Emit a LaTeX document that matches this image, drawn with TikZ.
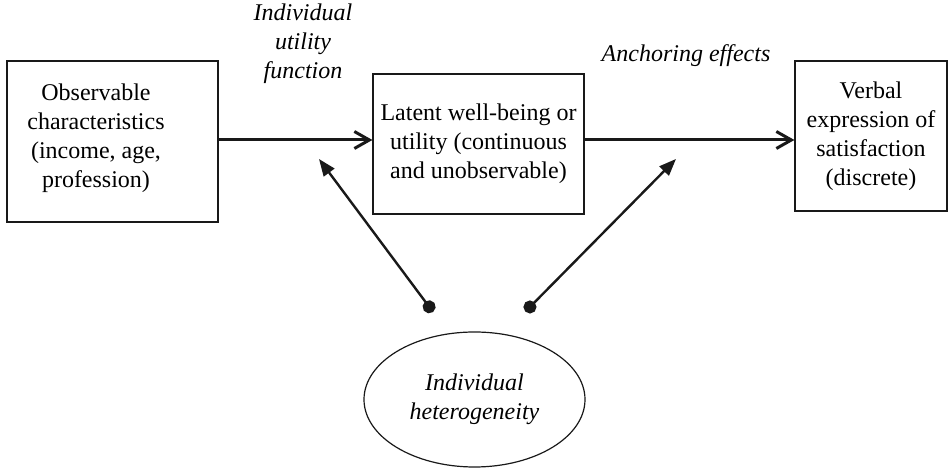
\documentclass[tikz,border=0pt]{standalone}
\usepackage{fontspec}
\setmainfont{Liberation Serif}
\usetikzlibrary{arrows.meta, shapes.geometric, positioning}

\begin{document}
\begin{tikzpicture}[
    x=0.5pt, y=-0.5pt,
    box/.style={rectangle, draw=black!90, line width=0.6pt, inner sep=0pt},
    boxtext/.style={align=center, inner sep=0pt, font=\fontsize{12}{14.5}\selectfont},
    effect/.style={align=center, inner sep=0pt, font=\fontsize{12}{14.5}\selectfont\itshape},
    flow/.style={-{Straight Barb[length=7.5pt, width=8.5pt]}, line width=1.5pt, draw=black!90},
    hetero/.style={{Circle[length=6.5pt]}-{Triangle[length=8.5pt, width=6.5pt]}, line width=1.2pt, draw=black!90}
]
\useasboundingbox (0,0) rectangle (950,469);

% Boxes
\node[box, minimum width=105.5pt, minimum height=80.5pt] (obs) at (112.5,141.5) {};
\node[boxtext] (obstext) at (96,138.5) {Observable\\characteristics\\(income, age,\\profession)};
\node[box, boxtext, minimum width=105.5pt, minimum height=70pt] (latent) at (478.5,144) {Latent well-being or\\utility (continuous\\and unobservable)};
\node[box, boxtext, minimum width=76pt, minimum height=75pt] (verbal) at (871,136) {Verbal\\expression of\\satisfaction\\(discrete)};

\node[ellipse, draw=black!90, line width=0.6pt, minimum width=110.5pt, minimum height=67.5pt, effect] (hetero) at (474.5,399.5) {Individual\\heterogeneity};

% Labels
\node[effect] (utilfn) at (303,44) {Individual\\utility\\function};
\node[effect] (anchor) at (686,56) {Anchoring effects};

% Arrows
\draw[flow] ([yshift=0.75pt]obs.east) -- ([yshift=0.75pt]obs.east -| latent.west);
\draw[flow] ([yshift=2pt]latent.east) -- ([yshift=2pt]latent.east -| verbal.west);

\coordinate (dotL) at (433,312);
\coordinate (tipL) at (319,159);
\coordinate (dotR) at (525.4,311.6);
\coordinate (tipR) at (676,159);
\draw[hetero] (dotL) -- (tipL);
\draw[hetero] (dotR) -- (tipR);

\end{tikzpicture}
\end{document}
